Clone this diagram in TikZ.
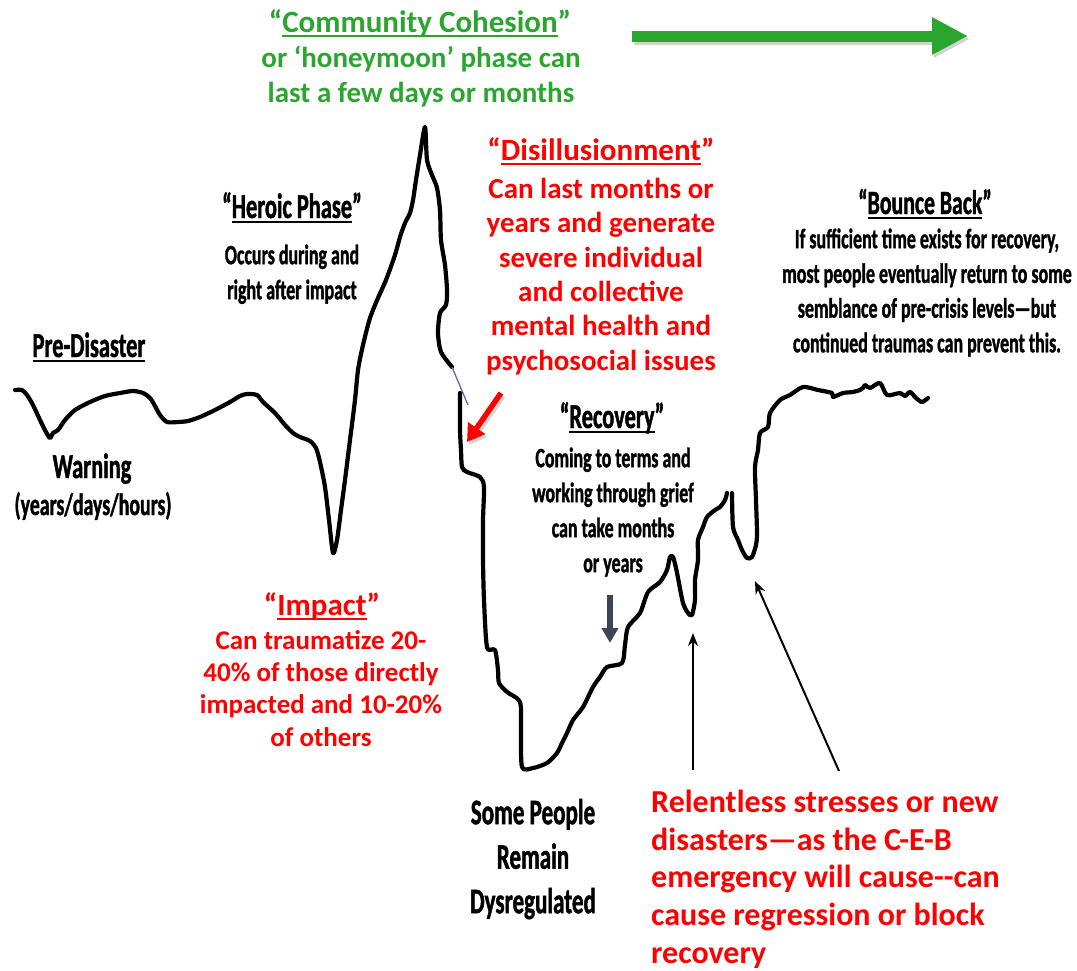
\documentclass[tikz,border=0pt]{standalone}
\usepackage{fontspec}
\setmainfont{Carlito}
\newfontfamily\bfont{Carlito}[UprightFont=* Bold]
\newfontfamily\cfont{Carlito}[UprightFont=* Bold, FakeStretch=0.64, FakeBold=1.2]
\usetikzlibrary{arrows.meta}
\definecolor{cohgreen}{RGB}{42,166,46}
\definecolor{alertred}{RGB}{255,0,0}
\definecolor{slate}{RGB}{59,69,86}
\definecolor{joinviolet}{RGB}{112,96,168}
% underline drawn as a rule below the baseline, 2pt thick
\newsavebox\ulinebox
\newcommand\uln[1]{\sbox\ulinebox{#1}\rlap{\rule[-5pt]{\wd\ulinebox}{2pt}}\usebox\ulinebox}
% invisible lift so that a block's first baseline sits a known distance below its top
\newcommand\lift[1]{\rule{0pt}{#1pt}}
\tikzset{
  curve/.style={line width=4.2pt, line join=round, line cap=round},
  head/.style={inner sep=0pt, anchor=base, align=center},
  body/.style={inner sep=0pt, anchor=north, align=center},
  bodyleft/.style={inner sep=0pt, anchor=north west, align=left},
  greenhead/.style={head, text=cohgreen, font=\bfont\fontsize{31}{37}\selectfont},
  greenbody/.style={body, text=cohgreen, font=\bfont\fontsize{29}{35}\selectfont},
  redhead/.style={head, text=alertred, font=\bfont\fontsize{31}{37}\selectfont},
  blackhead/.style={head, font=\cfont\fontsize{35}{42}\selectfont},
  blackbody/.style={body, font=\cfont\fontsize{28}{35}\selectfont},
  thinarrow/.style={line width=2pt, -{Stealth[length=13pt,width=10pt]}},
}
\begin{document}
\begin{tikzpicture}[x=1pt,y=-1pt]
\useasboundingbox (0,0) rectangle (1077,970);

% ---------- the response curve ----------
\draw[curve] plot[smooth, tension=0.45] coordinates {
 (15,390) (22,390) (27,395) (33,405) (40,420) (46,432) (50,438) (53,433) (58,430)
 (65,420) (75,410) (90,402) (105,396) (120,393) (133,391) (143,393) (150,398)
 (155,406) (160,415) (167,422) (178,422) (188,421) (200,417) (215,410) (230,402)
 (240,396) (247,394) (257,395) (263,402) (275,413) (285,425) (293,433) (300,437)
 (310,441) (316,448) (320,462) (325,487) (329,520) (333,553) (337,540) (341,510)
 (345,480) (350,440) (355,400) (358,370) (363,345) (370,318) (378,298) (386,280)
 (395,255) (400,237) (405,223) (410,213) (413,200) (416,180) (420,155) (425,127)
 (427,160) (432,175) (437,188) (440,210) (441,240) (445,265) (447,290) (446,305)
 (440,313) (438,333) (441,352) (452,367)};
\draw[joinviolet, line width=1.3pt] (452,367) -- (468,405);
\draw[curve] plot[smooth, tension=0.45] coordinates {
 (460,393) (460,430) (461,450) (462,467) (467,472) (480,477) (484,487) (483,520)
 (483,560) (484,600) (487,647) (495,650) (498,670) (499,683) (507,692) (520,702)
 (521,730) (522,767) (533,768) (547,763) (557,753) (562,743) (567,733) (573,720)
 (583,707) (593,687) (600,677) (607,667) (622,663) (625,645) (628,627) (640,613)
 (648,592) (660,582) (667,570) (670,557) (673,557) (676,568) (678,578) (683,603)
 (688,613) (692,615) (695,600) (695,580) (698,560) (698,540) (703,527) (707,517)
 (715,510) (720,507) (725,500) (727,493)};
\draw[curve] plot[smooth, tension=0.45] coordinates {
 (732,493) (733,527) (738,540) (742,550) (747,558) (752,557) (756,545) (757,533)
 (756,500) (755,467) (758,450) (760,433) (768,427) (770,413) (780,400) (790,395)
 (803,387) (818,390) (832,393) (833,397) (843,393) (853,392) (860,390) (863,388)
 (865,385) (870,388) (880,383) (887,395) (900,393) (905,396) (910,392) (916,398)
 (922,402) (928,398)};

% ---------- arrows ----------
\coordinate (gtail) at (632,36);
\coordinate (gtip) at (968,36);
\draw[black!35, opacity=0.5, line width=11pt, -{Triangle[length=36pt,width=35pt]}]
  ([shift={(2,3)}]gtail) -- ([shift={(2,3)}]gtip);
\draw[cohgreen, line width=11pt, -{Triangle[length=36pt,width=35pt]}] (gtail) -- (gtip);

\coordinate (rtail) at (501,393);
\coordinate (rtip) at (467,442);
\draw[black!35, opacity=0.45, line width=5.5pt, -{Triangle[length=17pt,width=20pt]}]
  ([shift={(2,3)}]rtail) -- ([shift={(2,3)}]rtip);
\draw[alertred, line width=5.5pt, -{Triangle[length=17pt,width=20pt]}] (rtail) -- (rtip);

\coordinate (stail) at (610,595);
\coordinate (stip) at (610,643);
\draw[slate, line width=6pt, -{Triangle[length=15pt,width=16pt]}] (stail) -- (stip);

\coordinate (v1tail) at (693,770);
\coordinate (v1tip) at (693,633);
\draw[thinarrow] (v1tail) -- (v1tip);
\coordinate (v2tail) at (839,771);
\coordinate (v2tip) at (755,581);
\draw[thinarrow] (v2tail) -- (v2tip);

% ---------- texts ----------
\node[greenhead] (cohh) at (420,32) {“\uln{Community Cohesion}”};
\node[greenbody] (cohb) at (421,67-25) {\lift{25}or ‘honeymoon’ phase can\\last a few days or months};

\node[blackhead] (herh) at (292,218) {“\uln{Heroic Phase}”};
\node[blackbody] (herb) at (292,264-24) {\lift{24}Occurs during and\\right after impact};

\node[blackhead] (pre) at (89,357) {\uln{Pre-Disaster}};

\node[blackhead] (warn) at (92,478) {Warning};
\node[head, font=\cfont\fontsize{31}{36}\selectfont] (warnb) at (93,515) {(years/days/hours)};

\node[redhead] (imph) at (322,615) {“\uln{Impact}”};
\node[body, text=alertred, font=\bfont\fontsize{27}{32.3}\selectfont] (impb) at (321,649-23)
  {\lift{23}Can traumatize 20-\\40\% of those directly\\impacted and 10-20\%\\of others};

\node[redhead] (dish) at (601,160) {“\uln{Disillusionment}”};
\node[body, text=alertred, font=\bfont\fontsize{29}{34.4}\selectfont] (disb) at (601,198-25)
  {\lift{25}Can last months or\\years and generate\\severe individual\\and collective\\mental health and\\psychosocial issues};

\node[blackhead] (rech) at (612,428) {“\uln{Recovery}”};
\node[blackbody] (recb) at (613,467-24)
  {\lift{24}Coming to terms and\\working through grief\\can take months\\or years};

\node[blackhead, font=\cfont\fontsize{34}{40}\selectfont] (bbh) at (925,214) {“\uln{Bounce Back}”};
\node[blackbody, font=\cfont\fontsize{28}{34.7}\selectfont] (bbb) at (927,248-24)
  {\lift{24}If sufficient time exists for recovery,\\most people eventually return to some\\semblance of pre-crisis levels—but\\continued traumas can prevent this.};

\node[body, font=\cfont\fontsize{36}{44.5}\selectfont] (dys) at (533,824-31)
  {\lift{31}Some People\\Remain\\Dysregulated};

\node[bodyleft, text=alertred, font=\bfont\fontsize{32}{37.8}\selectfont] (rel) at (651,812-28)
  {\lift{28}Relentless stresses or new\\disasters—as the C-E-B\\emergency will cause-{}-can\\cause regression or block\\recovery};
\end{tikzpicture}
\end{document}
